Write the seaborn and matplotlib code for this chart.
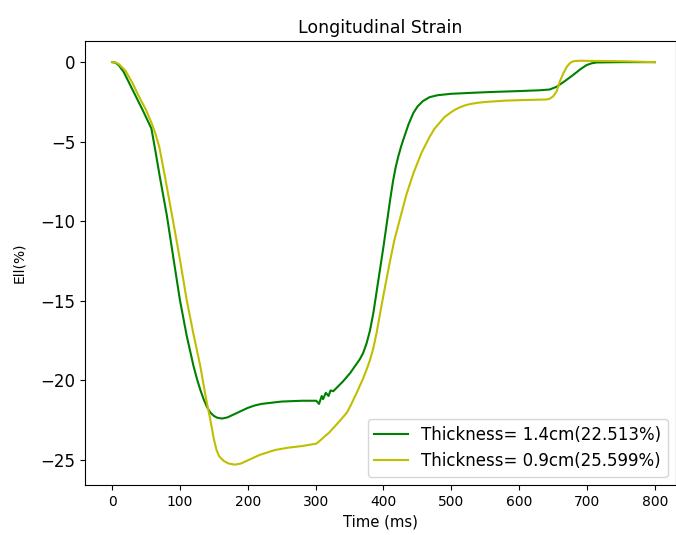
import matplotlib
matplotlib.use("Agg")
import matplotlib.pyplot as plt
import seaborn as sns
import pandas as pd

title = "Longitudinal Strain"
xlabel = "Time (ms)"
ylabel = "Ell(%)"

label_thick = "Thickness= 1.4cm(22.513%)"
t_thick = [0, 5, 10, 17, 24, 31, 45, 58, 64, 70, 81, 90, 100, 110, 120, 125, 130, 135,
           140, 145, 150, 155, 162, 170, 180, 190, 200, 210, 220, 250, 280, 301, 305, 309,
           311, 315, 319, 322, 326, 333, 340, 351, 360, 365, 370, 375, 380, 385, 390, 395,
           400, 405, 410, 414, 418, 422, 426, 429, 437, 444, 450, 458, 468, 480, 500, 530,
           557, 600, 630, 645, 655, 667, 679, 690, 699, 707, 714, 750, 800]
v_thick = [0, -0.03, -0.2, -0.6, -1.2, -1.8, -3.0, -4.17, -5.6, -7.1, -9.7, -12.2, -14.95,
           -17.2, -19.1, -19.9, -20.6, -21.2, -21.7, -22.05, -22.25, -22.37, -22.42, -22.35,
           -22.15, -21.95, -21.75, -21.6, -21.5, -21.35, -21.3, -21.3, -21.5, -21.0, -21.2,
           -20.8, -21.0, -20.65, -20.7, -20.4, -20.1, -19.55, -19.0, -18.7, -18.3, -17.7,
           -16.9, -15.8, -14.4, -13.0, -11.6, -10.1, -8.6, -7.5, -6.6, -5.9, -5.3, -4.9,
           -3.9, -3.2, -2.8, -2.45, -2.2, -2.08, -1.99, -1.93, -1.88, -1.82, -1.77, -1.72,
           -1.55, -1.2, -0.82, -0.45, -0.19, -0.07, -0.02, 0.0, 0.0]

label_thin = "Thickness= 0.9cm(25.599%)"
t_thin = [0, 5, 10, 20, 30, 39, 50, 58, 64, 70, 78, 90, 100, 110, 120, 130, 137, 141, 144,
          147, 150, 154, 158, 165, 172, 181, 190, 200, 218, 240, 260, 280, 301, 304, 320,
          335, 346, 351, 360, 370, 375, 380, 385, 390, 395, 402, 409, 416, 424, 434, 444,
          456, 468, 475, 483, 490, 498, 505, 512, 520, 527, 540, 552, 580, 610, 640, 645,
          650, 655, 660, 665, 670, 675, 680, 690, 700, 750, 800]
v_thin = [0, -0.02, -0.12, -0.55, -1.3, -2.1, -3.0, -3.8, -4.5, -5.4, -7.2, -10.0, -12.4,
          -14.95, -17.1, -19.1, -20.8, -21.7, -22.3, -23.0, -23.7, -24.4, -24.8, -25.1,
          -25.25, -25.32, -25.25, -25.05, -24.7, -24.4, -24.25, -24.15, -24.0, -23.9, -23.3,
          -22.6, -22.05, -21.65, -20.85, -19.9, -19.35, -18.75, -18.0, -17.0, -15.8, -14.2,
          -12.65, -11.2, -9.9, -8.3, -7.0, -5.7, -4.7, -4.2, -3.8, -3.45, -3.2, -3.0, -2.85,
          -2.72, -2.64, -2.55, -2.5, -2.42, -2.38, -2.35, -2.3, -2.15, -1.85, -1.2, -0.7,
          -0.3, -0.05, 0.06, 0.09, 0.08, 0.06, 0.0]

df_thick = pd.DataFrame({"t": t_thick, "v": v_thick})
df_thin = pd.DataFrame({"t": t_thin, "v": v_thin})

fig = plt.figure(figsize=(6.76, 5.35), dpi=100)
ax = fig.add_axes([85 / 676, 1 - 485 / 535, 591 / 676, 444 / 535])

sns.lineplot(data=df_thick, x="t", y="v", ax=ax, color="g", linewidth=1.5,
             label=label_thick, sort=False, estimator=None)
sns.lineplot(data=df_thin, x="t", y="v", ax=ax, color="y", linewidth=1.5,
             label=label_thin, sort=False, estimator=None)

ax.set_xlim(-39.8, 831)
ax.set_ylim(-26.6, 1.33)
ax.set_xticks([0, 100, 200, 300, 400, 500, 600, 700, 800])
ax.set_yticks([0, -5, -10, -15, -20, -25])
ax.tick_params(axis="x", labelsize=10)
ax.tick_params(axis="y", labelsize=12)
ax.set_title(title, fontsize=12.5)
ax.set_xlabel(xlabel, fontsize=10.7)
ax.set_ylabel(ylabel, fontsize=10, labelpad=10)
ax.legend(loc="lower right", fontsize=12)

fig.savefig("out.png", dpi=100)
